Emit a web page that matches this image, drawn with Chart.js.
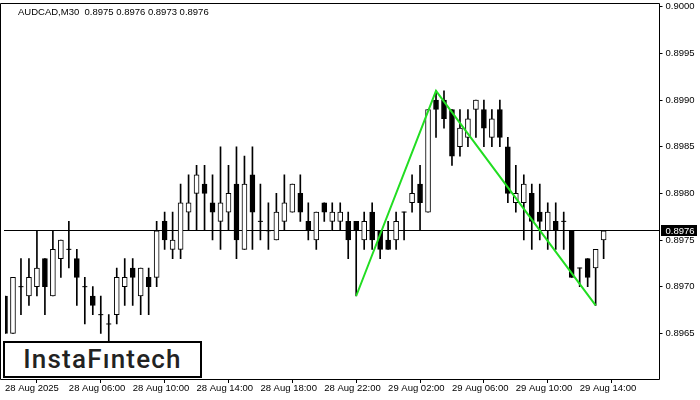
<!DOCTYPE html>
<html>
<head>
<meta charset="utf-8">
<script src="https://cdn.jsdelivr.net/npm/chart.js@4.4.0/dist/chart.umd.min.js"></script>
<style>
  html, body { margin: 0; padding: 0; background: #fff; }
  #wrap { position: relative; width: 700px; height: 400px; }
  #logo {
    position: absolute; left: 3px; top: 341px; width: 195px; height: 33px;
    border: 2px solid #000; background: #fff; color: #222;
    font-family: Roboto, "Open Sans", sans-serif; font-size: 26px; font-weight: 500;
    letter-spacing: 1.2px; text-align: center; line-height: 33px;
  }
</style>
</head>
<body>
<div id="wrap">
  <canvas id="chart" width="700" height="400"></canvas>
  <div id="logo">InstaFıntech</div>
</div>
<script>
const symbolTitle = 'AUDCAD,M30  0.8975 0.8976 0.8973 0.8976';

// M30 candles, 28 Aug 02:00 -> 29 Aug 15:30
const opens = [
  0.8969, 0.8965, 0.8970, 0.8969, 0.8970, 0.8973, 0.8969, 0.8973, 0.8974, 0.8973,
  0.8970, 0.8969, 0.8967, 0.8966, 0.8967, 0.8970, 0.8972, 0.8969, 0.8971, 0.8971,
  0.8977, 0.8974, 0.8974, 0.8978, 0.8980, 0.8981, 0.8979, 0.8977, 0.8978, 0.8981,
  0.8974, 0.8982, 0.8977, 0.8976, 0.8975, 0.8977, 0.8978, 0.8980, 0.8977, 0.8975,
  0.8979, 0.8977, 0.8977, 0.8977, 0.8977, 0.8975, 0.8978, 0.8976, 0.8975, 0.8975,
  0.8978, 0.8979, 0.8981, 0.8978, 0.8990, 0.8990, 0.8989, 0.8985, 0.8986, 0.8989,
  0.8989, 0.8986, 0.8989, 0.8985, 0.8979, 0.8979, 0.8980, 0.8978, 0.8976, 0.8977,
  0.8977, 0.8976, 0.8972, 0.8973, 0.8972, 0.8975
];
const highs = [
  0.8969, 0.8971, 0.8973, 0.8973, 0.8976, 0.8973, 0.8976, 0.8975, 0.8977, 0.8974,
  0.8971, 0.8970, 0.8969, 0.8967, 0.8972, 0.8973, 0.8973, 0.8972, 0.8972, 0.8977,
  0.8978, 0.8978, 0.8981, 0.8982, 0.8983, 0.8983, 0.8982, 0.8985, 0.8983, 0.8985,
  0.8984, 0.8985, 0.8981, 0.8979, 0.8980, 0.8982, 0.8981, 0.8982, 0.8979, 0.8978,
  0.8979, 0.8979, 0.8979, 0.8978, 0.8977, 0.8978, 0.8979, 0.8976, 0.8977, 0.8978,
  0.8978, 0.8982, 0.8983, 0.8989, 0.8991, 0.8991, 0.8989, 0.8989, 0.8989, 0.8990,
  0.8990, 0.8989, 0.8990, 0.8986, 0.8983, 0.8982, 0.8981, 0.8981, 0.8979, 0.8979,
  0.8978, 0.8976, 0.8972, 0.8973, 0.8974, 0.8976
];
const lows = [
  0.8965, 0.8965, 0.8967, 0.8968, 0.8969, 0.8967, 0.8969, 0.8971, 0.8972, 0.8968,
  0.8966, 0.8967, 0.8965, 0.8963, 0.8966, 0.8968, 0.8968, 0.8967, 0.8967, 0.8970,
  0.8974, 0.8973, 0.8973, 0.8976, 0.8976, 0.8976, 0.8975, 0.8974, 0.8976, 0.8973,
  0.8974, 0.8974, 0.8975, 0.8974, 0.8975, 0.8976, 0.8978, 0.8977, 0.8975, 0.8974,
  0.8977, 0.8976, 0.8976, 0.8973, 0.8969, 0.8974, 0.8974, 0.8973, 0.8974, 0.8974,
  0.8975, 0.8978, 0.8976, 0.8978, 0.8986, 0.8987, 0.8983, 0.8984, 0.8985, 0.8986,
  0.8985, 0.8985, 0.8985, 0.8979, 0.8978, 0.8975, 0.8974, 0.8975, 0.8974, 0.8974,
  0.8974, 0.8971, 0.8970, 0.8970, 0.8968, 0.8973
];
const closes = [
  0.8965, 0.8971, 0.8970, 0.8971, 0.8972, 0.8970, 0.8974, 0.8975, 0.8974, 0.8971,
  0.8970, 0.8968, 0.8967, 0.8966, 0.8971, 0.8971, 0.8971, 0.8972, 0.8970, 0.8976,
  0.8975, 0.8975, 0.8979, 0.8979, 0.8982, 0.8980, 0.8978, 0.8979, 0.8980, 0.8975,
  0.8981, 0.8978, 0.8977, 0.8976, 0.8978, 0.8979, 0.8981, 0.8978, 0.8976, 0.8978,
  0.8978, 0.8978, 0.8978, 0.8975, 0.8976, 0.8977, 0.8975, 0.8974, 0.8974, 0.8977,
  0.8978, 0.8980, 0.8979, 0.8989, 0.8989, 0.8988, 0.8984, 0.8987, 0.8988, 0.8990,
  0.8987, 0.8988, 0.8986, 0.8980, 0.8980, 0.8981, 0.8977, 0.8977, 0.8978, 0.8976,
  0.8977, 0.8971, 0.8972, 0.8971, 0.8974, 0.8976
];

// double bottom pattern drawn in green
const patternBars = [44, 54, 74];
const patternPrices = [0.8969, 0.8991, 0.8968];

const tickLabels = ['28 Aug 2025', '28 Aug 06:00', '28 Aug 10:00', '28 Aug 14:00', '28 Aug 18:00',
                    '28 Aug 22:00', '29 Aug 02:00', '29 Aug 06:00', '29 Aug 10:00', '29 Aug 14:00'];
const barsPerLabel = 8;
const priceTicks = [0.8965, 0.8970, 0.8975, 0.8980, 0.8985, 0.8990, 0.8995, 0.9000];
const emptyBarsRight = 7;

const lastClose = closes[closes.length - 1];
const labels = Array.from({ length: opens.length + emptyBarsRight }, (_, i) => i);
const isDoji = opens.map((o, i) => o === closes[i]);
const bodyData = opens.map((o, i) => isDoji[i] ? null : [Math.min(o, closes[i]), Math.max(o, closes[i])]);
const bodyColors = opens.map((o, i) => closes[i] > o ? '#ffffff' : '#000000');
const wickData = lows.map((l, i) => [l, highs[i]]);
const dojiData = opens.map((o, i) => isDoji[i] ? o : null);
const patternData = labels.map(() => null);
patternBars.forEach((b, k) => { patternData[b] = patternPrices[k]; });

const FONT = '"Liberation Sans", Arial, sans-serif';
Chart.defaults.font.family = FONT;
Chart.defaults.font.size = 9.5;
Chart.defaults.color = '#000';

const mtOverlay = {
  id: 'mtOverlay',
  beforeDatasetsDraw(chart) {
    const { ctx, chartArea } = chart;
    const y = Math.floor(chart.scales.y.getPixelForValue(lastClose)) + 0.5;
    ctx.save();
    ctx.strokeStyle = '#000';
    ctx.lineWidth = 1;
    ctx.beginPath();
    ctx.moveTo(chartArea.left - 1, y);
    ctx.lineTo(chartArea.right, y);
    ctx.stroke();
    ctx.restore();
  },
  afterDraw(chart) {
    const { ctx, chartArea } = chart;
    ctx.save();
    ctx.strokeStyle = '#000';
    ctx.lineWidth = 1;
    ctx.beginPath();
    ctx.moveTo(0.5, 3.5);
    ctx.lineTo(chartArea.right, 3.5);
    ctx.lineTo(chartArea.right, 379.5);
    ctx.lineTo(0.5, 379.5);
    ctx.closePath();
    ctx.stroke();

    ctx.font = '9.5px ' + FONT;
    ctx.fillStyle = '#000';
    ctx.textBaseline = 'alphabetic';
    ctx.fillText(symbolTitle, 18, 15);

    // current price marker on the axis
    const y = Math.floor(chart.scales.y.getPixelForValue(lastClose)) + 0.5;
    ctx.fillRect(chartArea.right + 1.5, y - 5.5, 36, 11);
    ctx.fillStyle = '#fff';
    ctx.textBaseline = 'middle';
    ctx.fillText(lastClose.toFixed(4), chartArea.right + 6, y + 0.5);
    ctx.restore();
  }
};

new Chart(document.getElementById('chart'), {
  type: 'bar',
  data: {
    labels: labels,
    datasets: [
      {
        type: 'line',
        data: patternData,
        borderColor: '#22dd22',
        borderWidth: 2,
        pointRadius: 0,
        spanGaps: true,
        order: 0
      },
      {
        type: 'line',
        data: dojiData,
        showLine: false,
        pointStyle: 'line',
        pointRadius: 2.5,
        pointBorderWidth: 1,
        borderColor: '#000',
        order: 1
      },
      {
        data: bodyData,
        backgroundColor: bodyColors,
        borderColor: '#000',
        borderWidth: 1,
        borderSkipped: false,
        barThickness: 5,
        grouped: false,
        order: 2
      },
      {
        data: wickData,
        backgroundColor: '#000',
        borderWidth: 0,
        barThickness: 1,
        grouped: false,
        order: 3
      }
    ]
  },
  options: {
    responsive: false,
    animation: false,
    devicePixelRatio: 1,
    layout: { padding: { left: 3.5, right: 0.5, top: 3, bottom: 0 } },
    plugins: {
      legend: { display: false },
      tooltip: { enabled: false }
    },
    scales: {
      x: {
        type: 'category',
        offset: false,
        afterFit: (scale) => {
          scale.height = 21;
          scale.paddingLeft = 0;
          scale.paddingRight = 0;
        },
        afterBuildTicks: (scale) => {
          scale.ticks = scale.ticks.filter(t => t.value % barsPerLabel === 0 && t.value / barsPerLabel < tickLabels.length);
        },
        grid: { drawOnChartArea: false, drawTicks: true, tickLength: 4, color: '#000' },
        border: { display: false },
        ticks: {
          autoSkip: false,
          maxRotation: 0,
          minRotation: 0,
          align: 'start',
          padding: 0,
          callback: (value) => tickLabels[value / barsPerLabel]
        }
      },
      y: {
        type: 'linear',
        position: 'right',
        min: 0.89601,
        max: 0.90002,
        afterFit: (scale) => {
          scale.width = 40;
          scale.paddingTop = 0;
          scale.paddingBottom = 0;
        },
        afterBuildTicks: (scale) => {
          scale.ticks = priceTicks.map(v => ({ value: v }));
        },
        grid: { drawOnChartArea: false, drawTicks: true, tickLength: 3, color: '#000' },
        border: { display: false },
        ticks: {
          padding: 3,
          callback: (value) => value.toFixed(4)
        }
      }
    }
  },
  plugins: [mtOverlay]
});
</script>
</body>
</html>
